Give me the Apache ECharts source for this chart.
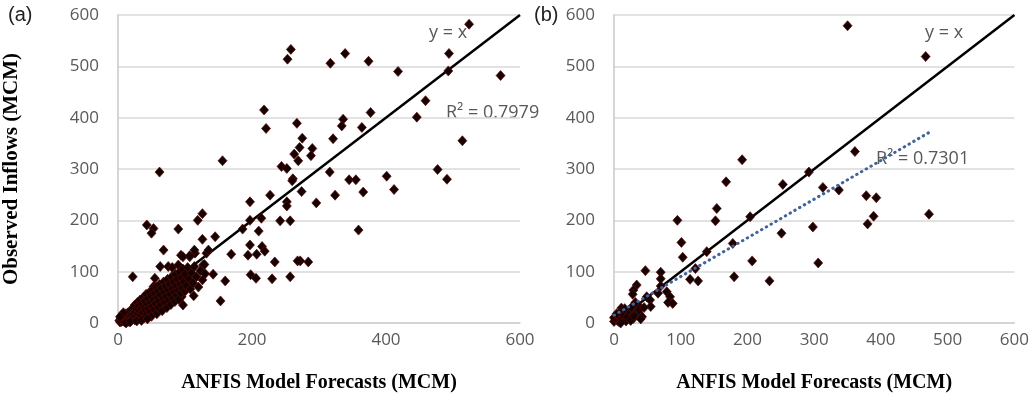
<!DOCTYPE html>
<html>
<head>
<meta charset="utf-8">
<script src="https://cdn.jsdelivr.net/npm/echarts@6/dist/echarts.min.js"></script>
<style>
  html, body { margin: 0; padding: 0; background: #fff; }
  #chart { width: 1032px; height: 405px; }
</style>
</head>
<body>
<div id="chart"></div>
<script>
// panel (a): ANFIS forecast vs observed inflow, [forecast, observed]
var pointsA = [
  [258,533],[253,514],[339,525],[317,506],[374,510],[418,490],[524,582],[494,525],[493,491],[571,482],
  [459,433],[446,401],[514,355],[477,299],[491,280],[218,415],[221,379],[267,389],[336,397],[334,384],
  [377,410],[364,381],[321,359],[275,360],[271,342],[263,329],[269,316],[290,340],[288,326],[156,316],
  [62,294],[244,305],[252,301],[316,294],[261,281],[345,279],[355,279],[401,286],[412,260],[366,255],
  [324,249],[274,256],[296,234],[260,277],[359,181],[284,119],[272,121],[227,249],[197,236],[252,236],
  [252,228],[214,204],[242,199],[257,199],[197,200],[186,183],[210,179],[197,152],[215,149],[219,140],
  [194,132],[207,134],[234,119],[268,121],[198,94],[206,87],[230,86],[257,90],[169,134],[145,168],
  [126,163],[126,213],[119,200],[90,183],[43,191],[53,184],[50,175],[22,90],[153,43],[160,82],
  [142,95],[132,136],[127,113],[113,53],[94,132],[107,129],[115,136],[63,110],[75,110],[90,113],
  [97,129],[107,131],[114,142],[135,142],[129,114],[97,35],[95,51],[105,90],[103,77],[55,87],
  [53,71],[68,142],[81,108],
  // dense cluster near the origin
  [2,5],[3,2],[4,8],[5,3],[6,10],[7,4],[8,12],[9,6],[10,2],[10,15],[11,8],[12,18],[13,5],[14,11],
  [15,20],[15,3],[16,14],[17,8],[18,22],[19,12],[20,5],[20,26],[21,16],[22,10],[23,30],[24,19],
  [25,6],[25,35],[26,22],[27,13],[28,28],[29,40],[30,9],[30,18],[31,33],[32,24],[33,45],[34,14],
  [35,28],[36,38],[37,20],[38,50],[39,10],[40,32],[40,43],[41,25],[42,56],[43,17],[44,36],[45,48],
  [46,28],[47,60],[48,22],[49,40],[50,52],[50,13],[51,32],[52,65],[53,45],[54,26],[55,58],[56,38],
  [57,70],[58,18],[59,50],[60,30],[60,62],[61,42],[62,75],[63,55],[64,35],[65,68],[66,24],[67,48],
  [68,80],[69,60],[70,40],[71,72],[72,52],[73,30],[74,85],[75,64],[76,45],[77,76],[78,56],[79,36],
  [80,90],[81,68],[82,48],[83,80],[84,60],[85,42],[86,95],[87,72],[88,54],[89,85],[90,64],[91,46],
  [92,100],[93,76],[94,58],[95,88],[96,68],[97,105],[98,80],[100,62],[100,95],[102,72],[104,108],
  [106,86],[108,66],[110,98],[112,78],[114,110],[117,90],[120,70],[123,102],[126,84],[130,96],
  [5,15],[12,0],[18,2],[28,4],[8,20],[35,5],[44,8],[3,12]
];

// panel (b)
var pointsB = [
  [350,579],[467,519],[361,334],[192,318],[292,294],[253,270],[313,264],[337,259],[378,248],[393,244],
  [389,208],[380,193],[472,212],[298,187],[306,117],[251,175],[168,275],[154,223],[152,199],[95,200],
  [204,207],[101,157],[103,128],[178,155],[207,121],[139,139],[122,106],[114,85],[126,82],[180,90],
  [233,82],[47,102],[70,99],[70,86],[70,72],[34,74],[29,64],[28,56],[49,51],[54,45],
  [55,32],[66,58],[79,61],[84,51],[81,40],[88,38],
  [36,35],[34,22],[39,16],[24,22],[29,9],[11,29],[9,19],[1,12],[0,3],[0,10],
  [5,5],[8,2],[12,8],[15,15],[18,4],[20,12],[22,25],[25,5],[30,14],[38,26],
  [42,12],[45,30],[16,28],[4,18],[10,0],[26,30],[32,40],[40,8]
];

var identityLine = [[0, 0], [600, 600]];
var trendB = [[0, 15], [472, 371]];   // Excel linear trendline, panel (b)

var yTicks = [0, 100, 200, 300, 400, 500, 600];

var gray = '#595959';
var tickFont = { color: gray, fontSize: 17, fontFamily: 'Open Sans' };
var nameFont = { color: '#000', fontSize: 20, fontWeight: 'bold', fontFamily: 'Liberation Serif' };

function xAxisFor(idx, step) {
  return {
    gridIndex: idx, type: 'value', min: 0, max: 600, interval: step,
    name: 'ANFIS Model Forecasts (MCM)', nameLocation: 'middle', nameGap: 50,
    nameTextStyle: nameFont,
    axisLine: { show: true, lineStyle: { color: '#d0d0d0', width: 1.5 } },
    axisTick: { show: false },
    axisLabel: Object.assign({ margin: 9 }, tickFont),
    splitLine: { show: false }
  };
}

function yAxisFor(idx, withName) {
  return {
    gridIndex: idx, type: 'value', min: yTicks[0], max: yTicks[yTicks.length - 1], interval: 100,
    name: withName ? 'Observed Inflows (MCM)' : '', nameLocation: 'middle', nameGap: 96,
    nameTextStyle: Object.assign({}, nameFont, { fontSize: 21 }),
    axisLine: { show: true, lineStyle: { color: '#c8c8c8', width: 1.5 } },
    axisTick: { show: false },
    axisLabel: Object.assign({ margin: 19 }, tickFont),
    splitLine: { show: true, lineStyle: { color: '#d9d9d9', width: 1.5 } }
  };
}

var dots = {
  type: 'scatter', symbol: 'diamond', symbolSize: [9, 10], z: 3,
  itemStyle: { color: '#170202', borderColor: '#5a0c0c', borderWidth: 0.7, opacity: 1 }
};

var chart = echarts.init(document.getElementById('chart'), null, { renderer: 'canvas' });

var option = {
  animation: false,
  backgroundColor: '#fff',
  grid: [
    { left: 118, top: 15, width: 402, height: 308 },
    { left: 614, top: 15, width: 402, height: 308 }
  ],
  xAxis: [xAxisFor(0, 200), xAxisFor(1, 100)],
  yAxis: [yAxisFor(0, true), yAxisFor(1, false)],
  graphic: [
    { type: 'text', left: 8, top: 5, style: { text: '(a)', fontSize: 20, fill: '#222', fontFamily: 'Liberation Sans' } },
    { type: 'text', left: 534, top: 5, style: { text: '(b)', fontSize: 20, fill: '#222', fontFamily: 'Liberation Sans' } },
    { type: 'text', left: 429, top: 24, style: { text: 'y = x', fontSize: 18, fill: gray, fontFamily: 'Open Sans' } },
    { type: 'text', left: 446, top: 104, style: { text: 'R² = 0.7979', fontSize: 18, fill: gray, fontFamily: 'Open Sans' } },
    { type: 'text', left: 925, top: 24, style: { text: 'y = x', fontSize: 18, fill: gray, fontFamily: 'Open Sans' } },
    { type: 'text', left: 876, top: 150, style: { text: 'R² = 0.7301', fontSize: 18, fill: gray, fontFamily: 'Open Sans' } }
  ],
  series: [
    {
      type: 'line', xAxisIndex: 0, yAxisIndex: 0, data: identityLine, symbol: 'none', z: 2,
      lineStyle: { color: '#000', width: 2.5 }
    },
    Object.assign({ xAxisIndex: 0, yAxisIndex: 0, data: pointsA }, dots),
    {
      type: 'line', xAxisIndex: 1, yAxisIndex: 1, data: identityLine, symbol: 'none', z: 2,
      lineStyle: { color: '#000', width: 2.5 }
    },
    {
      type: 'line', xAxisIndex: 1, yAxisIndex: 1, data: trendB, symbol: 'none', z: 4,
      lineStyle: { color: '#41639a', width: 3, type: [0.5, 5], cap: 'round' }
    },
    Object.assign({ xAxisIndex: 1, yAxisIndex: 1, data: pointsB }, dots)
  ]
};

chart.setOption(option);
</script>
</body>
</html>
